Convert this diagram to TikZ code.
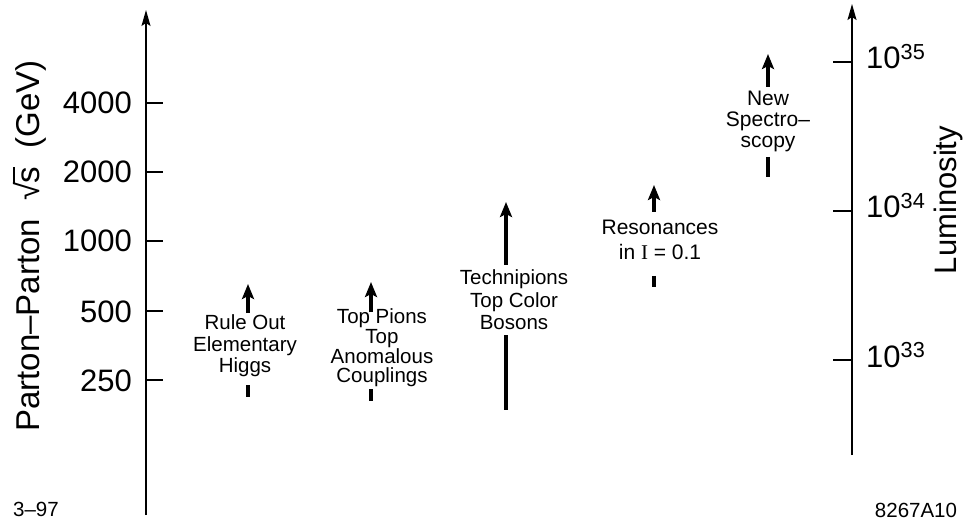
\documentclass[tikz,border=0pt]{standalone}
\usepackage{fontspec}
\setmainfont{Liberation Sans}
\newfontfamily\seriffont{Liberation Serif}
\usetikzlibrary{arrows.meta}
\newcommand{\rootsym}{\mbox{√\kern-0.02em\rlap{\rule[0.76em]{0.5em}{0.045em}}s}}
\begin{document}
\begin{tikzpicture}[x=1pt,y=-1pt,
  axisline/.style={line width=1.6pt,-{Stealth[length=16pt,width=9pt,inset=3pt]}},
  tickline/.style={line width=1.4pt},
  colarrow/.style={line width=3.8pt,-{Stealth[length=15pt,width=12pt,inset=3pt]}},
  coldash/.style={line width=3.8pt},
  bigtext/.style={font=\fontsize{31}{35}\selectfont,inner sep=0pt},
  coltext/.style={font=\fontsize{20.5}{21.5}\selectfont,align=center,inner sep=0pt},
  smalltext/.style={font=\fontsize{20.5}{22}\selectfont,inner sep=0pt}]
\useasboundingbox (0,0) rectangle (966,521);
% left axis
\coordinate (L0) at (146,515);
\coordinate (L1) at (146,10);
\draw[axisline] (L0) -- (L1);
\foreach \y/\lab/\n in {103/4000/a,172/2000/b,241/1000/c,311/500/d,380/250/e}{
  \coordinate (lt\n) at (146,\y);
  \coordinate (lu\n) at (163,\y);
  \draw[tickline] (lt\n) -- (lu\n);
  \node[bigtext,anchor=base east] (ll\n) at (132,\y+11) {\lab};
}
\node[bigtext,font=\fontsize{33}{36}\selectfont,rotate=90] (ltitle) at (30,246) {Parton--Parton \ \rootsym\ \ (GeV)};
% right axis
\coordinate (R0) at (852,455);
\coordinate (R1) at (852,4);
\draw[axisline] (R0) -- (R1);
\foreach \y/\e/\n in {62/35/a,211/34/b,360/33/c}{
  \coordinate (rt\n) at (833,\y);
  \coordinate (ru\n) at (852,\y);
  \draw[tickline] (rt\n) -- (ru\n);
  \node[bigtext,anchor=base west] (rl\n) at (866,\y+7) {10\textsuperscript{\e}};
}
\node[bigtext,rotate=90] (rtitle) at (948,200) {Luminosity};
% column 1
\node[coltext] (c1) at (245,346) {Rule Out\\Elementary\\Higgs};
\coordinate (c1a) at (248,313); \coordinate (c1b) at (248,284);
\draw[colarrow] (c1a) -- (c1b);
\coordinate (c1c) at (248,385); \coordinate (c1d) at (248,397);
\draw[coldash] (c1c) -- (c1d);
% column 2
\node[coltext,font=\fontsize{20.5}{19.7}\selectfont] (c2) at (382,348) {Top Pions\\Top\\Anomalous\\Couplings};
\coordinate (c2a) at (371,312); \coordinate (c2b) at (371,282);
\draw[colarrow] (c2a) -- (c2b);
\coordinate (c2c) at (371,389); \coordinate (c2d) at (371,401);
\draw[coldash] (c2c) -- (c2d);
% column 3
\node[coltext,font=\fontsize{20.5}{22.5}\selectfont] (c3) at (514,300) {Technipions\\Top Color\\Bosons};
\coordinate (c3a) at (506,265); \coordinate (c3b) at (506,202);
\draw[colarrow] (c3a) -- (c3b);
\coordinate (c3c) at (506,335); \coordinate (c3d) at (506,410);
\draw[coldash] (c3c) -- (c3d);
% column 4
\node[coltext,font=\fontsize{21}{25}\selectfont] (c4) at (660,240) {Resonances\\in {\seriffont I} = 0.1};
\coordinate (c4a) at (654,212); \coordinate (c4b) at (654,185);
\draw[colarrow] (c4a) -- (c4b);
\coordinate (c4c) at (654,276); \coordinate (c4d) at (654,287);
\draw[coldash] (c4c) -- (c4d);
% column 5
\node[coltext,font=\fontsize{21}{21}\selectfont] (c5) at (768,121) {New\\Spectro--\\scopy};
\coordinate (c5a) at (768,87); \coordinate (c5b) at (768,54);
\draw[colarrow] (c5a) -- (c5b);
\coordinate (c5c) at (768,157); \coordinate (c5d) at (768,177);
\draw[coldash] (c5c) -- (c5d);
% corner labels
\node[smalltext] (date) at (36,509) {3--97};
\node[smalltext] (code) at (916,510) {8267A10};
\end{tikzpicture}
\end{document}
